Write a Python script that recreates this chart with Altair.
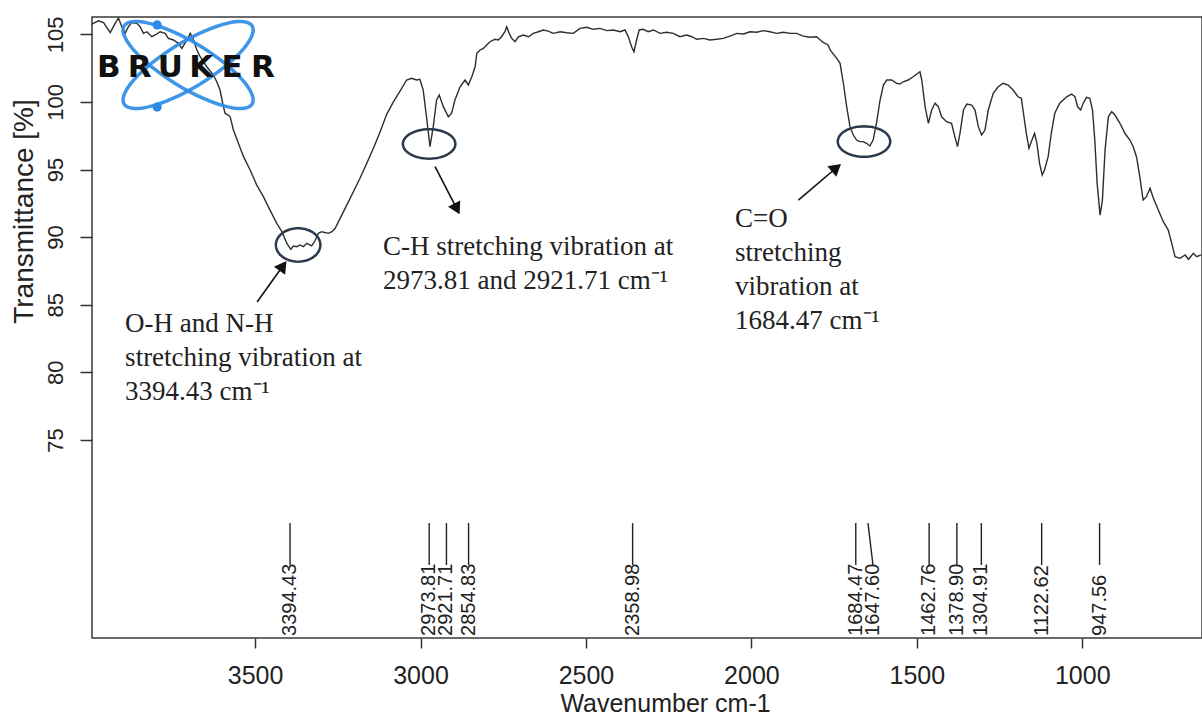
import math
import altair as alt
import pandas as pd

# ---------------- data ----------------
WAVENUMBER = [
    3993.5, 3973.5, 3958, 3938, 3923, 3913, 3903, 3893, 3883, 3873, 3857.5, 3847.5,
    3837.5, 3827, 3812, 3802, 3787, 3772, 3762, 3747, 3732, 3721.5, 3706, 3696,
    3686, 3676, 3666, 3646, 3626, 3616, 3606, 3598, 3591, 3581, 3575.5, 3565.5,
    3550.5, 3535, 3515, 3495, 3475, 3455, 3434.5, 3419, 3404, 3392, 3384, 3374,
    3364, 3354, 3344, 3329, 3319, 3309, 3298.5, 3278.5, 3268, 3258, 3243, 3223,
    3203, 3183, 3162.5, 3142.5, 3122, 3102, 3082, 3062, 3042, 3027, 3012, 3002,
    2992, 2982, 2971.5, 2961.5, 2951.5, 2943.5, 2931, 2916, 2906, 2896, 2880.5, 2865.5,
    2855.5, 2845, 2835, 2830, 2820, 2810, 2800, 2790, 2775, 2765, 2755, 2745,
    2739.5, 2732, 2724.5, 2714.5, 2704.5, 2689, 2674, 2659, 2644, 2629, 2614, 2599,
    2578, 2558, 2538, 2518, 2498, 2478, 2457.5, 2437, 2417, 2397, 2382, 2372,
    2362, 2355, 2347, 2339, 2327, 2312, 2296, 2276, 2256, 2236, 2216, 2195.5,
    2180, 2165, 2145, 2125, 2105, 2085, 2065, 2044, 2024, 2004, 1984, 1964,
    1944, 1923.5, 1903.5, 1883, 1863, 1843, 1823, 1803, 1783, 1768, 1762, 1742,
    1732, 1722, 1712, 1702, 1692, 1682, 1672, 1662, 1652, 1642, 1632, 1622,
    1611, 1601, 1591, 1576, 1561, 1551, 1541, 1526, 1511, 1490.5, 1485, 1475,
    1465, 1455, 1445, 1435, 1425, 1410, 1395, 1385, 1377, 1369.5, 1359, 1349,
    1334, 1324, 1314, 1304, 1294, 1284, 1269, 1254, 1239, 1224, 1209, 1194,
    1184, 1179, 1169, 1161, 1152, 1144, 1137, 1129, 1121, 1114, 1103, 1093.5,
    1083, 1068, 1047, 1032, 1022, 1014, 1005, 997, 987, 977, 969, 962,
    955, 946, 939, 931, 921, 911, 901, 886, 871, 856, 846, 836,
    826, 816, 806, 795, 785, 770, 755, 740, 729.5, 719.5, 704.5, 689,
    679, 664, 654, 641,
]
TRANSMITTANCE = [
    105.76, 106.0, 105.86, 105.12, 105.81, 106.2, 105.56, 105.07, 105.56, 105.86, 105.81, 105.56,
    105.07, 105.19, 104.82, 104.95, 105.19, 105.07, 104.7, 104.58, 104.33, 103.96, 104.58, 105.07,
    104.58, 103.84, 103.34, 102.6, 101.99, 101.49, 100.88, 99.9, 99.16, 99.03, 98.9, 97.92,
    96.94, 95.95, 94.96, 93.85, 92.99, 92.0, 91.02, 90.4, 89.54, 89.1, 89.34, 89.29,
    89.42, 89.29, 89.54, 89.36, 89.73, 90.28, 90.4, 90.28, 90.4, 90.65, 91.39, 92.37,
    93.36, 94.35, 95.46, 96.57, 97.8, 99.1, 100.0, 100.8, 101.62, 101.75, 101.62, 101.67,
    100.88, 98.9, 96.69, 98.17, 100.14, 100.51, 99.65, 98.9, 99.16, 100.14, 101.12, 101.62,
    101.25, 101.86, 102.6, 103.59, 103.84, 103.96, 104.21, 104.45, 104.63, 104.58, 104.82, 105.19,
    105.56, 105.07, 104.7, 104.45, 104.82, 104.95, 104.82, 105.07, 105.19, 105.32, 105.24, 105.07,
    105.19, 105.12, 105.07, 105.44, 105.52, 105.37, 105.44, 105.27, 105.32, 105.19, 105.32, 104.82,
    104.08, 103.71, 104.58, 105.32, 105.37, 105.19, 105.32, 105.07, 105.15, 105.07, 104.82, 104.95,
    104.82, 104.63, 104.7, 104.58, 104.63, 104.7, 104.87, 105.07, 105.02, 105.19, 105.15, 105.27,
    105.19, 105.07, 105.15, 105.07, 105.07, 104.87, 104.78, 104.82, 104.4, 104.21, 103.84, 103.22,
    102.85, 101.38, 99.65, 98.17, 97.55, 97.18, 97.06, 97.06, 96.94, 96.74, 97.18, 98.42,
    100.14, 101.25, 101.62, 101.62, 101.38, 101.32, 101.49, 101.62, 101.86, 102.23, 101.62, 99.65,
    98.42, 99.4, 99.9, 99.65, 98.9, 98.54, 98.42, 97.43, 96.69, 97.68, 99.4, 99.84,
    99.77, 99.4, 98.17, 97.55, 97.92, 99.4, 100.64, 101.12, 101.38, 101.25, 100.88, 100.38,
    100.27, 99.4, 97.68, 96.57, 97.18, 97.68, 96.94, 95.46, 94.59, 94.96, 95.95, 97.68,
    99.16, 99.9, 100.38, 100.58, 100.38, 99.65, 99.4, 99.9, 100.34, 100.27, 99.4, 97.18,
    93.98, 91.63, 92.74, 96.44, 98.9, 99.28, 99.03, 98.42, 97.68, 97.18, 96.69, 95.95,
    94.47, 92.74, 92.99, 93.61, 92.87, 92.0, 91.14, 90.52, 89.54, 88.55, 88.43, 88.68,
    88.36, 88.8, 88.55, 88.68,
]

PEAK_WAVENUMBERS = [3394.43, 2973.81, 2921.71, 2854.83, 2358.98, 1684.47, 1647.60,
                    1462.76, 1378.90, 1304.91, 1122.62, 947.56]
PEAK_LABEL_WAVENUMBERS = [3394.43, 2973.81, 2921.71, 2854.83, 2358.98, 1684.47, 1632.5,
                          1462.76, 1378.90, 1304.91, 1122.62, 947.56]
PEAK_LABELS = ["3394.43", "2973.81", "2921.71", "2854.83", "2358.98", "1684.47", "1647.60",
               "1462.76", "1378.90", "1304.91", "1122.62", "947.56"]

X_TICKS = [1000, 1500, 2000, 2500, 3000, 3500]
Y_TICKS = [75, 80, 85, 90, 95, 100, 105]

# annotations (anchored in data space)
CIRCLE_W = [3370, 2974, 1659.6]
CIRCLE_T = [89.42, 96.89, 97.07]
CIRCLE_WIDTH_PX = [44.5, 52.5, 52.5]
CIRCLE_RATIO = [0.75, 0.56, 0.58]

ARROW_TAIL_W = [3494, 2956, 1858]
ARROW_TAIL_T = [85.2, 95.21, 92.74]
ARROW_HEAD_W = [3415.7, 2890.2, 1743]
ARROW_HEAD_T = [87.88, 92.09, 95.13]
ARROW_ANGLE = [35.5, 152.6, 49.8]

NOTE_W = [3892.9, 3113.2, 2049.4]
NOTE_T = [83.0, 88.68, 90.75]
NOTE_TEXT = [
    "O-H and N-H\nstretching vibration at\n3394.43 cm\u207b\u00b9",
    "C-H stretching vibration at\n2973.81 and 2921.71 cm\u207b\u00b9",
    "C=O\nstretching\nvibration at\n1684.47 cm\u207b\u00b9",
]

# logo
LOGO_LETTERS = ["B", "R", "U", "K", "E", "R"]
LOGO_FIRST_W = 3942.1
LOGO_STEP_W = 93.1
LOGO_BASE_T = 101.84
LOGO_CENTER_W = 3702.5
LOGO_CENTER_T = 102.73
LOGO_DOT_W = [3796, 3796]
LOGO_DOT_T = [105.69, 99.62]

# ---------------- scales / axes ----------------
xscale = alt.Scale(domain=[638, 3993], reverse=True, nice=False, zero=False)
yscale = alt.Scale(domain=[60.35, 106.28], nice=False, zero=False)

xaxis = alt.Axis(
    values=X_TICKS, format="d", title="Wavenumber cm-1", grid=False, domain=False,
    labelFont="Liberation Sans", labelFontSize=25, labelColor="#222",
    labelPadding=15, labelFlush=False, labelOverlap=False,
    tickSize=10, tickColor="#333", tickWidth=1.5,
    titleFont="Liberation Sans", titleFontSize=25, titleFontWeight="normal",
    titleColor="#222", titleX=573, titleY=73, titleAlign="center",
    titleBaseline="alphabetic",
)
yaxis = alt.Axis(
    values=Y_TICKS, format="d", title="Transmittance [%]", grid=False, domain=False,
    labelFont="Liberation Sans", labelFontSize=22, labelColor="#222",
    labelAngle=270, labelAlign="center", labelBaseline="bottom",
    labelPadding=13, labelFlush=False, labelOverlap=False,
    tickSize=12, tickColor="#333", tickWidth=1.5,
    titleFont="Liberation Sans", titleFontSize=28, titleFontWeight="normal",
    titleColor="#222", titleAngle=270, titleX=-68, titleY=194,
    titleAlign="center", titleBaseline="middle",
)


def X(field):
    return alt.X(field, type="quantitative", scale=xscale, axis=xaxis)


def Y(field):
    return alt.Y(field, type="quantitative", scale=yscale, axis=yaxis)


def YD(value):
    return alt.Y(datum=value, type="quantitative", scale=yscale, axis=yaxis)


def ellipse_path(ratio, n=60):
    pts = []
    for i in range(n):
        t = 2 * math.pi * i / n
        pts.append(f"{math.cos(t):.4f},{ratio * math.sin(t):.4f}")
    return "M" + " L".join(pts) + " Z"


# ---------------- layers ----------------
spec_df = pd.DataFrame({"w": WAVENUMBER, "T": TRANSMITTANCE})
spectrum = alt.Chart(spec_df).mark_line(color="#2e2e2e", strokeWidth=1.4).encode(
    x=X("w"), y=Y("T"), order="idx:Q"
).transform_window(idx="row_number()")

peak_df = pd.DataFrame({"w": PEAK_WAVENUMBERS, "lw": PEAK_LABEL_WAVENUMBERS, "label": PEAK_LABELS})
peak_rules = alt.Chart(peak_df).mark_rule(color="#222", strokeWidth=1.4).encode(
    x=X("w"), x2=alt.X2("lw"), y=YD(68.85), y2=alt.Y2(datum=65.75)
)
peak_text = alt.Chart(peak_df).mark_text(
    angle=270, align="left", baseline="middle", font="Liberation Sans",
    fontSize=20, color="#222"
).encode(x=X("lw"), y=YD(60.5), text="label:N")

layers = [spectrum, peak_rules, peak_text]

# logo
for ang in [31.4, 328.6]:
    layers.append(
        alt.Chart(pd.DataFrame({"w": [LOGO_CENTER_W], "T": [LOGO_CENTER_T]})).mark_point(
            shape=ellipse_path(0.3), size=150 ** 2, filled=False, stroke="#2b8be6",
            strokeWidth=3.5, opacity=0.9, angle=ang
        ).encode(x=X("w"), y=Y("T"))
    )
layers.append(
    alt.Chart(pd.DataFrame({"w": LOGO_DOT_W, "T": LOGO_DOT_T})).mark_point(
        shape="circle", size=85, filled=True, color="#2b8be6", opacity=1
    ).encode(x=X("w"), y=Y("T"))
)
logo_df = pd.DataFrame({
    "w": [LOGO_FIRST_W - i * LOGO_STEP_W for i in range(len(LOGO_LETTERS))],
    "T": [LOGO_BASE_T] * len(LOGO_LETTERS),
    "c": LOGO_LETTERS,
})
layers.append(
    alt.Chart(logo_df).mark_text(
        font="DejaVu Sans", fontWeight="bold", fontSize=31, color="#111",
        align="center", baseline="alphabetic"
    ).encode(x=X("w"), y=Y("T"), text="c:N")
)

# circles
for w, t, wpx, r in zip(CIRCLE_W, CIRCLE_T, CIRCLE_WIDTH_PX, CIRCLE_RATIO):
    layers.append(
        alt.Chart(pd.DataFrame({"w": [w], "T": [t]})).mark_point(
            shape=ellipse_path(r), size=wpx ** 2, filled=False, stroke="#2c3a4e",
            strokeWidth=2.5, opacity=1
        ).encode(x=X("w"), y=Y("T"))
    )

# arrows
arrow_df = pd.DataFrame({"w0": ARROW_TAIL_W, "t0": ARROW_TAIL_T,
                         "w1": ARROW_HEAD_W, "t1": ARROW_HEAD_T, "ang": ARROW_ANGLE})
layers.append(
    alt.Chart(arrow_df).mark_rule(color="#111", strokeWidth=1.6).encode(
        x=X("w0"), y=Y("t0"), x2=alt.X2("w1"), y2=alt.Y2("t1")
    )
)
layers.append(
    alt.Chart(arrow_df).mark_point(
        shape="triangle-up", size=190, filled=True, color="#111", opacity=1
    ).encode(x=X("w1"), y=Y("t1"), angle=alt.Angle("ang:Q", scale=None))
)

# notes
note_df = pd.DataFrame({"w": NOTE_W, "T": NOTE_T, "txt": NOTE_TEXT})
layers.append(
    alt.Chart(note_df).mark_text(
        font="Liberation Serif", fontSize=27, color="#222", align="left",
        baseline="alphabetic", lineBreak="\n", lineHeight=34
    ).encode(x=X("w"), y=Y("T"), text="txt:N")
)

chart = alt.layer(*layers).properties(
    width=1110, height=621,
    autosize=alt.AutoSizeParams(type="none"),
    padding={"left": 92, "top": 17, "right": 0, "bottom": 77},
    background="white",
).configure_view(stroke="#3a3a3a", strokeWidth=1.5)

chart.save("out.html", embed_options={"renderer": "svg", "actions": False})
